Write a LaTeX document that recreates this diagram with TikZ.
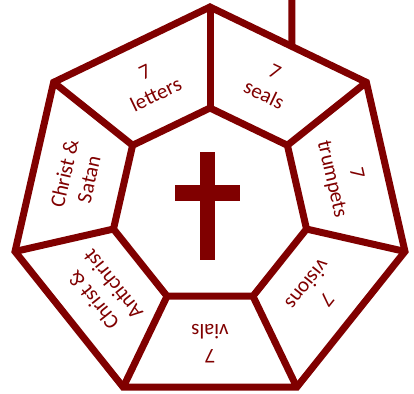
\documentclass[tikz,border=0pt]{standalone}
\usepackage{fontspec}
\setmainfont{Carlito}
\usetikzlibrary{calc}
\definecolor{maroon}{RGB}{128,0,0}
\begin{document}
\begin{tikzpicture}[x=1pt,y=1pt,
  frame/.style={draw=maroon,line width=7pt,line join=miter},
  seglabel/.style={text=maroon,align=center,font=\fontsize{21}{25}\selectfont,inner sep=0pt}]
\useasboundingbox (-210,-186) rectangle (204,207);
% vertices
\foreach \k in {0,...,6}{
  \coordinate (o\k) at ({90+360/7*\k}:200pt);
  \coordinate (i\k) at ({90+360/7*\k}:99pt);
}
\draw[frame] (o0)--(o1)--(o2)--(o3)--(o4)--(o5)--(o6)--cycle;
\draw[frame] (i0)--(i1)--(i2)--(i3)--(i4)--(i5)--(i6)--cycle;
\foreach \k in {0,...,6}{\draw[frame] (i\k)--(o\k);}
% line at top
\coordinate (topstart) at (82,210);
\coordinate (topend) at ($(o0)!0.524!(o6)$);
\draw[frame] (topstart)--(topend);
% cross
\fill[maroon] (-10,-53) rectangle (5,55);
\fill[maroon] (-35,6) rectangle (30,22);
% labels
\node[seglabel,rotate=25.71] (letters) at ({90+360/7*0.5}:137pt) {7\\letters};
\node[seglabel,rotate=77.14] (satan) at ({90+360/7*1.5}:137pt) {Christ \&\\Satan};
\node[seglabel,rotate=128.57] (antichrist) at ({90+360/7*2.5}:137pt) {Christ \&\\Antichrist};
\node[seglabel,rotate=180] (vials) at ({90+360/7*3.5}:137pt) {7\\vials};
\node[seglabel,rotate=231.43] (visions) at ({90+360/7*4.5}:137pt) {7\\visions};
\node[seglabel,rotate=282.86] (trumpets) at ({90+360/7*5.5}:137pt) {7\\trumpets};
\node[seglabel,rotate=334.29] (seals) at ({90+360/7*6.5}:137pt) {7\\seals};
\end{tikzpicture}
\end{document}
